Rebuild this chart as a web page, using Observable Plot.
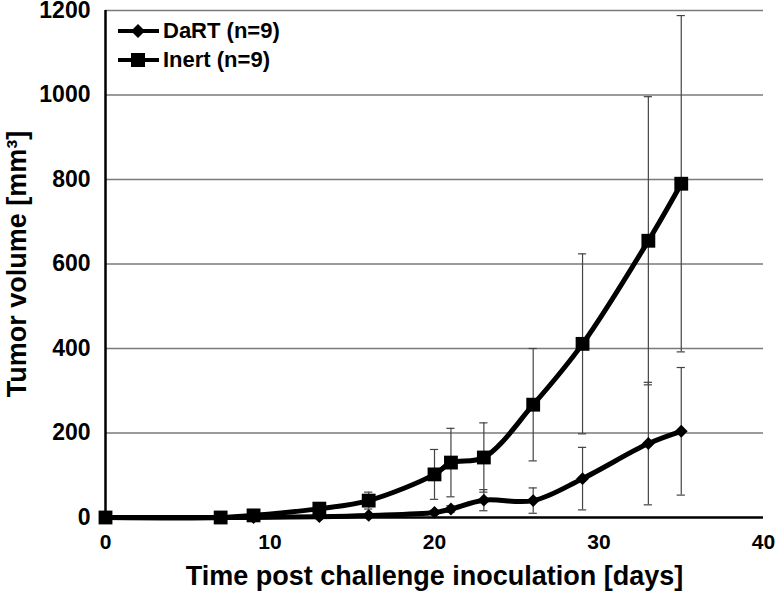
<!DOCTYPE html>
<html>
<head>
<meta charset="utf-8">
<script src="https://cdn.jsdelivr.net/npm/d3@7"></script>
<script src="https://cdn.jsdelivr.net/npm/@observablehq/plot@0.6"></script>
<style>
  html, body { margin: 0; padding: 0; background: #fff; }
  #wrap { position: relative; width: 775px; height: 595px; font-family: "Liberation Sans", Arial, sans-serif; }
  #legend { position: absolute; left: 117px; top: 16px; font-weight: bold; font-size: 22px; color: #000; }
  .row { display: flex; align-items: center; height: 29px; }
  .row svg { margin-right: 3px; }
</style>
</head>
<body>
<div id="wrap"></div>
<script>
const days = [0, 7, 9, 13, 16, 20, 21, 23, 26, 29, 33, 35];
const dartMean = [0, 0, 0, 2, 5, 12, 20, 41, 40, 92, 175, 204];
const dartSD   = [0, 0, 1, 2, 3, 5, 8, 25, 30, 74, 145, 151];
const inertMean = [0, 0, 5, 21, 40, 102, 130, 142, 267, 411, 655, 790];
const inertSD   = [0, 0, 3, 8, 20, 59, 81, 82, 133, 213, 341, 398];
const seriesNames = ["DaRT (n=9)", "Inert (n=9)"];
const xTicks = [0, 10, 20, 30, 40];
const yTicks = [0, 200, 400, 600, 800, 1000, 1200];
const xTitle = "Time post challenge inoculation [days]";
const yTitle = "Tumor volume [mm³]";

const rows = [];
days.forEach((d, i) => {
  rows.push({series: seriesNames[0], day: d, mean: dartMean[i], sd: dartSD[i]});
  rows.push({series: seriesNames[1], day: d, mean: inertMean[i], sd: inertSD[i]});
});
const dart = rows.filter(r => r.series === seriesNames[0]);
const inert = rows.filter(r => r.series === seriesNames[1]);
const withErr = rows.filter(r => r.sd > 0);
const cap = 0.25;

const font = "Liberation Sans, Arial, sans-serif";
const chart = Plot.plot({
  width: 775,
  height: 595,
  marginLeft: 105,
  marginRight: 12,
  marginTop: 10,
  marginBottom: 78,
  style: {fontFamily: font, color: "#000", background: "#fff"},
  x: {domain: [0, 40]},
  y: {domain: [0, 1200]},
  marks: [
    Plot.gridY(yTicks.filter(t => t > 0), {stroke: "#7a7a7a", strokeOpacity: 1, strokeWidth: 1.6}),
    Plot.axisX({ticks: xTicks, tickFormat: d => String(d), tickSize: 0, tickPadding: 17, fontSize: 21, fontWeight: "bold", label: null, fill: "#000"}),
    Plot.axisY({ticks: yTicks, tickFormat: d => String(d), tickSize: 0, tickPadding: 15, fontSize: 23, fontWeight: "bold", label: null, fill: "#000"}),
    Plot.ruleX(withErr, {x: "day", y1: d => d.mean - d.sd, y2: d => d.mean + d.sd, stroke: "#444", strokeWidth: 1.2}),
    Plot.ruleY(withErr, {y: d => d.mean + d.sd, x1: d => d.day - cap, x2: d => d.day + cap, stroke: "#444", strokeWidth: 1.2}),
    Plot.ruleY(withErr, {y: d => d.mean - d.sd, x1: d => d.day - cap, x2: d => d.day + cap, stroke: "#444", strokeWidth: 1.2}),
    Plot.ruleY([0], {stroke: "#000", strokeWidth: 2.5}),
    Plot.ruleX([0], {stroke: "#000", strokeWidth: 2.5}),
    Plot.line(dart, {x: "day", y: "mean", stroke: "#000", strokeWidth: 5, curve: "catmull-rom"}),
    Plot.line(inert, {x: "day", y: "mean", stroke: "#000", strokeWidth: 5, curve: "catmull-rom"}),
    Plot.dot(dart, {x: "day", y: "mean", symbol: "diamond2", r: 5.8, fill: "#000", stroke: "none"}),
    Plot.dot(inert, {x: "day", y: "mean", symbol: "square", r: 7.8, fill: "#000", stroke: "none"}),
    Plot.text([xTitle], {frameAnchor: "bottom", dy: 59, lineAnchor: "middle", textAnchor: "middle", fontSize: 27, fontWeight: "bold", fill: "#000"}),
    Plot.text([yTitle], {frameAnchor: "left", dx: -88, rotate: -90, lineAnchor: "middle", textAnchor: "middle", fontSize: 27, fontWeight: "bold", fill: "#000"})
  ]
});

const wrap = document.getElementById("wrap");
wrap.appendChild(chart);

const legend = document.createElement("div");
legend.id = "legend";
const swatch = (kind) => {
  const shape = kind === 0
    ? '<path d="M21,2 L28,9 L21,16 L14,9 Z" fill="#000"/>'
    : '<rect x="14" y="2" width="14" height="14" fill="#000"/>';
  return `<svg width="43" height="18" viewBox="0 0 43 18"><line x1="1" y1="9" x2="42" y2="9" stroke="#000" stroke-width="4"/>${shape}</svg>`;
};
seriesNames.forEach((name, i) => {
  const row = document.createElement("div");
  row.className = "row";
  row.innerHTML = swatch(i) + "<span>" + name + "</span>";
  legend.appendChild(row);
});
wrap.appendChild(legend);
</script>
</body>
</html>
